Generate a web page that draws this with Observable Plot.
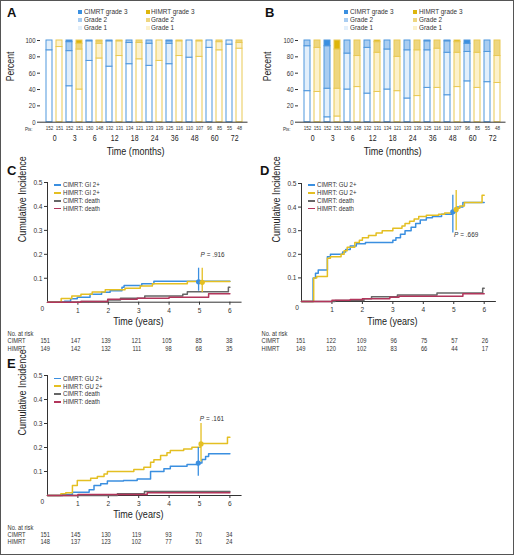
<!DOCTYPE html>
<html><head><meta charset="utf-8">
<script src="https://cdn.jsdelivr.net/npm/d3@7"></script>
<script src="https://cdn.jsdelivr.net/npm/@observablehq/plot@0.6"></script>
<style>
html,body{margin:0;padding:0;background:#fff;}
#fig{position:relative;width:514px;height:555px;overflow:hidden;
 font-family:"Liberation Sans",Arial,sans-serif;color:#333;}
#border{position:absolute;left:0;top:0;width:514px;height:555px;box-sizing:border-box;border:1.5px solid #555;pointer-events:none;}
.p{position:absolute;line-height:0;}
.lab{position:absolute;font:bold 13px "Liberation Sans",Arial,sans-serif;color:#111;line-height:1;}
.lg{position:absolute;font-size:7.8px;line-height:1;white-space:nowrap;color:#333;transform:scaleX(0.82);transform-origin:left center;}
.sq{position:absolute;width:4px;height:4px;}
.ln{position:absolute;width:7px;height:1.6px;}
</style></head>
<body><div id="fig"></div>
<script>
const FONT = '"Liberation Sans",Arial,sans-serif';
const SQUEEZE = 0.82;

// ---------- Bar panels (A: GI, B: GU) ----------
const timeLabels = ["0","3","6","12","18","24","36","48","60","72"];
const ptsCIMRT = [152,152,150,132,134,133,125,110,96,55];
const ptsHIMRT = [151,151,148,131,121,139,116,107,85,48];

// Panel A (GI) percent per grade
const giC_g0 = [88,44,75,68,71,69,71,79,91,95];
const giC_g1 = [12,43,24,31,26,27,25,21,9,5];
const giC_g2 = [0,11,1,1,3,4,3,0,0,0];
const giC_g3 = [0,2,0,0,0,0,1,0,0,0];
const giH_g0 = [92,40,78,81,77,75,81,80,88,90];
const giH_g1 = [8,49,18,18,20,25,18,19,10,7];
const giH_g2 = [0,7,3,1,3,0,1,1,2,3];
const giH_g3 = [0,4,1,0,0,0,0,0,0,0];
// Panel B (GU)
const guC_g0 = [38,6,40,35,40,29,42,33,50,49];
const guC_g1 = [55,35,44,56,49,59,46,52,36,37];
const guC_g2 = [7,52,16,9,11,12,11,14,10,14];
const guC_g3 = [0,7,0,0,0,0,1,1,4,0];
const guH_g0 = [37,7,43,37,38,32,42,43,42,48];
const guH_g1 = [54,34,38,48,42,56,48,42,43,33];
const guH_g2 = [9,48,19,13,20,12,10,13,15,19];
const guH_g3 = [0,11,0,2,0,0,0,2,0,0];

const blueFills = ["#ffffff","#e2effb","#a9cdf1","#3a8fe0"];
const yellowFills = ["#ffffff","#fcf1cb","#eed67f","#ddb50c"];
const blueStroke = "#4f97dd", yellowStroke = "#e9c955";

// ---------- Cumulative incidence panels ----------
// Panel C (GI 2+)
const cGiCIMRT = [[0,0],[0.56,0.004],[0.76,0.014],[0.98,0.021],[1.4,0.033],[1.78,0.042],[2.06,0.048],[2.45,0.062],[2.52,0.07],[3.1,0.077],[3.5,0.088],[6,0.088]];
const cGiHIMRT = [[0,0],[0.45,0.015],[0.8,0.026],[1.1,0.033],[1.47,0.043],[1.9,0.052],[2.55,0.058],[3.05,0.068],[3.45,0.077],[4.6,0.086],[6,0.086]];
const cDeathCIMRT = [[0,0],[1.1,0.003],[1.98,0.009],[2.4,0.016],[3.2,0.026],[4.45,0.033],[4.6,0.044],[5.95,0.062],[6,0.062]];
const cDeathHIMRT = [[0,0],[1.1,0.003],[1.98,0.012],[2.95,0.016],[4.0,0.021],[5.3,0.035],[6,0.035]];
const cCI = [{arm:"C",t:4.97,est:0.085,lo:0.046,hi:0.142},{arm:"H",t:5.09,est:0.083,lo:0.04,hi:0.142}];
const cRiskCIMRT = [151,147,139,121,105,85,38];
const cRiskHIMRT = [149,142,132,111,98,68,35];

// Panel D (GU 2+)
const dGuCIMRT = [[0,0],[0.38,0.1],[0.46,0.12],[0.55,0.133],[0.85,0.19],[0.95,0.2],[1.35,0.21],[1.45,0.22],[1.6,0.235],[1.8,0.245],[2.1,0.25],[3.0,0.26],[3.1,0.27],[3.25,0.285],[3.4,0.3],[3.6,0.315],[3.75,0.33],[3.9,0.345],[4.1,0.355],[4.3,0.36],[4.6,0.37],[4.95,0.38],[5.1,0.4],[5.3,0.42],[6,0.42]];
const dGuHIMRT = [[0,0],[0.4,0.1],[0.5,0.106],[0.85,0.183],[0.95,0.19],[1.3,0.2],[1.4,0.215],[1.5,0.23],[1.75,0.25],[1.9,0.26],[2.0,0.27],[2.2,0.28],[2.45,0.29],[2.65,0.3],[3.0,0.31],[3.3,0.32],[3.4,0.33],[3.55,0.34],[3.7,0.35],[3.85,0.36],[4.1,0.365],[4.5,0.37],[4.7,0.375],[5.0,0.385],[5.1,0.395],[5.2,0.405],[5.35,0.42],[5.93,0.45],[6,0.45]];
const dDeathCIMRT = [[0,0],[1.1,0.004],[2.05,0.012],[2.3,0.02],[3.15,0.028],[4.45,0.036],[5.95,0.056],[6,0.056]];
const dDeathHIMRT = [[0,0],[1.0,0.005],[1.6,0.008],[2.0,0.012],[2.9,0.018],[3.2,0.022],[5.3,0.033],[6,0.033]];
const dCI = [{arm:"C",t:4.97,est:0.38,lo:0.29,hi:0.45},{arm:"H",t:5.08,est:0.39,lo:0.3,hi:0.47}];
const dRiskCIMRT = [151,122,109,96,75,57,26];
const dRiskHIMRT = [149,120,102,83,66,44,17];

// Panel E (GU 2+)
const eGuCIMRT = [[0,0],[0.5,0.004],[0.82,0.014],[1.37,0.024],[1.53,0.042],[1.75,0.049],[1.97,0.06],[2.5,0.063],[2.95,0.069],[3.39,0.1],[3.83,0.111],[4.04,0.122],[4.59,0.129],[4.97,0.135],[5.08,0.15],[5.2,0.163],[5.3,0.174],[6,0.174]];
const eGuHIMRT = [[0,0],[0.44,0.007],[0.6,0.011],[0.82,0.042],[0.98,0.062],[1.42,0.072],[1.64,0.079],[1.86,0.09],[1.97,0.1],[2.84,0.108],[3.17,0.118],[3.39,0.139],[3.5,0.149],[3.72,0.167],[3.93,0.178],[4.04,0.188],[4.48,0.194],[4.75,0.201],[5.03,0.217],[5.92,0.243],[6,0.243]];
const eDeathCIMRT = [[0,0],[2.3,0.007],[3.19,0.017],[6,0.017]];
const eDeathHIMRT = [[0,0],[1.0,0.004],[3.28,0.011],[6,0.011]];
const eCI = [{arm:"C",t:4.96,est:0.135,lo:0.08,hi:0.2},{arm:"H",t:5.05,est:0.215,lo:0.14,hi:0.3}];
const eRiskCIMRT = [151,145,130,119,93,70,34];
const eRiskHIMRT = [148,137,123,102,77,51,24];

const riskYears = [0,1,2,3,4,5,6];
const yearTicks = [1,2,3,4,5,6];
const ciTicks = [0.1,0.2,0.3,0.4,0.5];
const pctTicks = [0,20,40,60,80,100];

const cBlue = "#3b8fe0", cYellow = "#e4bf22", cGray = "#666666", cRed = "#b2355b";

const fig = document.getElementById("fig");

// narrow the (Arial-metric) glyphs to mimic the condensed face of the original
function squeeze(svg){
  svg.querySelectorAll("text").forEach(t=>{
    const len = t.getComputedTextLength();
    if (len > 0) { t.setAttribute("textLength", (len*SQUEEZE).toFixed(2)); t.setAttribute("lengthAdjust","spacingAndGlyphs"); }
  });
}
function place(el, left, top){ const d=document.createElement("div"); d.className="p"; d.style.left=left+"px"; d.style.top=top+"px"; d.appendChild(el); fig.appendChild(d); squeeze(el); }
function label(t, left, top){ const d=document.createElement("div"); d.className="lab"; d.textContent=t; d.style.left=left+"px"; d.style.top=top+"px"; fig.appendChild(d); }

function barPanel(left, C, H, ml, mr, tdx, pdx){
  const rows = [];
  const keys = [];
  timeLabels.forEach((t,i)=>{
    [["C",C,blueFills,blueStroke],["H",H,yellowFills,yellowStroke]].forEach(([arm,G,fills,st])=>{
      keys.push(t+arm);
      for(let k=0;k<4;k++) rows.push({key:t+arm, value:G[k][i], fill:fills[k], stroke:st});
    });
  });
  const pts = timeLabels.flatMap((t,i)=>[{key:t+"C",n:ptsCIMRT[i]},{key:t+"H",n:ptsHIMRT[i]}]);
  const svg = Plot.plot({
    width:257, height:165, marginLeft:ml, marginRight:mr, marginTop:40, marginBottom:43.3,
    style:{fontFamily:FONT, background:"none", overflow:"visible", color:"#333"},
    x:{domain:keys, paddingInner:0.42, paddingOuter:0.2, axis:null},
    y:{domain:[0,100], axis:null},
    color:{type:"identity"},
    marks:[
      Plot.barY(rows,{x:"key", y:"value", fill:"fill", stroke:"stroke", strokeWidth:1}),
      Plot.ruleY([0],{stroke:"#333", strokeWidth:1}),
      Plot.axisY({ticks:pctTicks, tickSize:3, tickPadding:2, fontSize:7.3, label:null, line:true, stroke:"#333"}),
      Plot.text(pts,{x:"key", text:"n", frameAnchor:"bottom", dy:8.2, fontSize:5.6, fill:"#333"}),
      Plot.text(["Pts:"],{frameAnchor:"bottom-left", dx:-8, dy:8.4, textAnchor:"end", fontSize:5.4, fill:"#333"}),
      Plot.text(timeLabels,{x:d=>d+"C", text:d=>d, frameAnchor:"bottom", dx:5.2, dy:18.5, fontSize:8.5, fill:"#222"}),
      Plot.text(["Time (months)"],{frameAnchor:"bottom", dx:tdx, dy:32.5, fontSize:11, fill:"#222"}),
      Plot.text(["Percent"],{frameAnchor:"left", dx:pdx, rotate:-90, fontSize:10.5, fill:"#222"})
    ]
  });
  place(svg, left, 0);
}

function linePanel(left, top, height, o){
  const svg = Plot.plot({
    width:257, height, marginLeft:o.ml, marginRight:257-o.ml-6.4*o.k, marginTop:o.mt, marginBottom:o.mb,
    style:{fontFamily:FONT, background:"none", overflow:"visible", color:"#333"},
    x:{domain:[0,6.4], axis:null},
    y:{domain:[0,0.5], axis:null},
    marks:[
      Plot.ruleY([0],{stroke:"#333", strokeWidth:1}),
      Plot.ruleX([0],{y1:0, y2:0.5, stroke:"#333", strokeWidth:1}),
      Plot.axisX({ticks:yearTicks, tickSize:3, tickPadding:2, fontSize:8, label:null, tickFormat:d=>String(d), stroke:"#333"}),
      Plot.axisY({ticks:ciTicks, tickSize:3, tickPadding:2, fontSize:8, label:null, tickFormat:d3.format(".1f"), stroke:"#333"}),
      Plot.text(["0"],{frameAnchor:"bottom-left", dx:o.zdx, dy:8.5, fontSize:8, fill:"#333"}),
      Plot.line(o.s[0],{x:d=>d[0], y:d=>d[1], curve:"step-after", stroke:cBlue, strokeWidth:1.5}),
      Plot.line(o.s[1],{x:d=>d[0], y:d=>d[1], curve:"step-after", stroke:cYellow, strokeWidth:1.5}),
      Plot.line(o.s[2],{x:d=>d[0], y:d=>d[1], curve:"step-after", stroke:cGray, strokeWidth:1.5}),
      Plot.line(o.s[3],{x:d=>d[0], y:d=>d[1], curve:"step-after", stroke:cRed, strokeWidth:1.5}),
      Plot.ruleX(o.ci,{x:"t", y1:"lo", y2:"hi", stroke:d=>d.arm==="C"?cBlue:cYellow, strokeWidth:1.3}),
      Plot.dot(o.ci,{x:"t", y:"est", r:2.6, fill:d=>d.arm==="C"?cBlue:cYellow, stroke:"none"}),
      Plot.text([o.p],{x:d=>d.x, y:d=>d.y, text:()=>"P", fontStyle:"italic", textAnchor:"start", fontSize:7.8, fill:"#333"}),
      Plot.text([o.p],{x:d=>d.x, y:d=>d.y, text:d=>" = "+d.v, textAnchor:"start", dx:4.5, fontSize:7.8, fill:"#333"}),
      Plot.text(["Time (years)"],{frameAnchor:"bottom", dx:-6.5, dy:o.ty, fontSize:11, fill:"#222"}),
      Plot.text(["Cumulative Incidence"],{frameAnchor:"left", dx:-25, rotate:-90, fontSize:11, fill:"#222"}),
      Plot.text(["No. at risk"],{frameAnchor:"bottom-left", dx:o.rlx, dy:o.r[0], textAnchor:"start", fontSize:7, fill:"#333"}),
      Plot.text(["CIMRT"],{frameAnchor:"bottom-left", dx:o.rlx, dy:o.r[1], textAnchor:"start", fontSize:7, fill:"#333"}),
      Plot.text(["HIMRT"],{frameAnchor:"bottom-left", dx:o.rlx, dy:o.r[2], textAnchor:"start", fontSize:7, fill:"#333"}),
      Plot.text(o.rc,{x:(d,i)=>riskYears[i], text:d=>d, frameAnchor:"bottom", dx:o.rdx, dy:o.r[1], textAnchor:"end", fontSize:7, fill:"#333"}),
      Plot.text(o.rh,{x:(d,i)=>riskYears[i], text:d=>d, frameAnchor:"bottom", dx:o.rdx, dy:o.r[2], textAnchor:"end", fontSize:7, fill:"#333"})
    ]
  });
  place(svg, left, top);
}

function barLegend(x1, x2, top){
  const items = [["CIMRT grade 3",blueFills[3],x1,0],["Grade 2",blueFills[2],x1,1],["Grade 1",blueFills[1],x1,2],
                 ["HIMRT grade 3",yellowFills[3],x2,0],["Grade 2",yellowFills[2],x2,1],["Grade 1",yellowFills[1],x2,2]];
  items.forEach(([t,c,x,r])=>{
    const yc = top + r*8;
    const s=document.createElement("div"); s.className="sq"; s.style.background=c; s.style.left=x+"px"; s.style.top=(yc-2)+"px"; fig.appendChild(s);
    const l=document.createElement("div"); l.className="lg"; l.textContent=t; l.style.left=(x+5.5)+"px"; l.style.top=(yc-4)+"px"; fig.appendChild(l);
  });
}
function lineLegend(x, top, kind){
  const items = [["CIMRT: "+kind,cBlue],["HIMRT: "+kind,cYellow],["CIMRT: death",cGray],["HIMRT: death",cRed]];
  items.forEach(([t,c],r)=>{
    const yc = top + r*7.9;
    const s=document.createElement("div"); s.className="ln"; s.style.background=c; s.style.left=x+"px"; s.style.top=(yc-0.8)+"px"; fig.appendChild(s);
    const l=document.createElement("div"); l.className="lg"; l.style.fontSize="7.4px"; l.textContent=t; l.style.left=(x+9)+"px"; l.style.top=(yc-3.7)+"px"; fig.appendChild(l);
  });
}

barPanel(0, [giC_g0,giC_g1,giC_g2,giC_g3], [giH_g0,giH_g1,giH_g2,giH_g3], 40, 9.5, -8.7, -30);
barPanel(257, [guC_g0,guC_g1,guC_g2,guC_g3], [guH_g0,guH_g1,guH_g2,guH_g3], 41, 8.5, -9.7, -31);

linePanel(0, 165, 190, {ml:47, k:30.4, mt:17, mb:53.3, zdx:-7, s:[cGiCIMRT,cGiHIMRT,cDeathCIMRT,cDeathHIMRT], ci:cCI,
  p:{x:5.03,y:0.2,v:".916"}, ty:22.3, rlx:-40, r:[33.5,41,48.3], rc:cRiskCIMRT, rh:cRiskHIMRT, rdx:2.5});
linePanel(257, 165, 190, {ml:44, k:30.45, mt:18, mb:54, zdx:-6.3, s:[dGuCIMRT,dGuHIMRT,dDeathCIMRT,dDeathHIMRT], ci:dCI,
  p:{x:5.01,y:0.283,v:".669"}, ty:23, rlx:-40, r:[34.2,41.7,49], rc:dRiskCIMRT, rh:dRiskHIMRT, rdx:4});
linePanel(0, 355, 200, {ml:47, k:30.4, mt:20, mb:60, zdx:-7, s:[eGuCIMRT,eGuHIMRT,eDeathCIMRT,eDeathHIMRT], ci:eCI,
  p:{x:5.01,y:0.32,v:".161"}, ty:22.7, rlx:-40, r:[34,41.3,48.6], rc:eRiskCIMRT, rh:eRiskHIMRT, rdx:2.5});

label("A", 7, 6); label("B", 265, 6); label("C", 7, 164); label("D", 260, 164); label("E", 7, 357);
barLegend(78, 145.5, 12);
barLegend(344, 413, 12);
lineLegend(54.3, 185, "GI 2+");
lineLegend(308, 185, "GU 2+");
lineLegend(54.3, 378.3, "GU 2+");
const b = document.createElement("div"); b.id = "border"; fig.appendChild(b);
</script></body></html>
